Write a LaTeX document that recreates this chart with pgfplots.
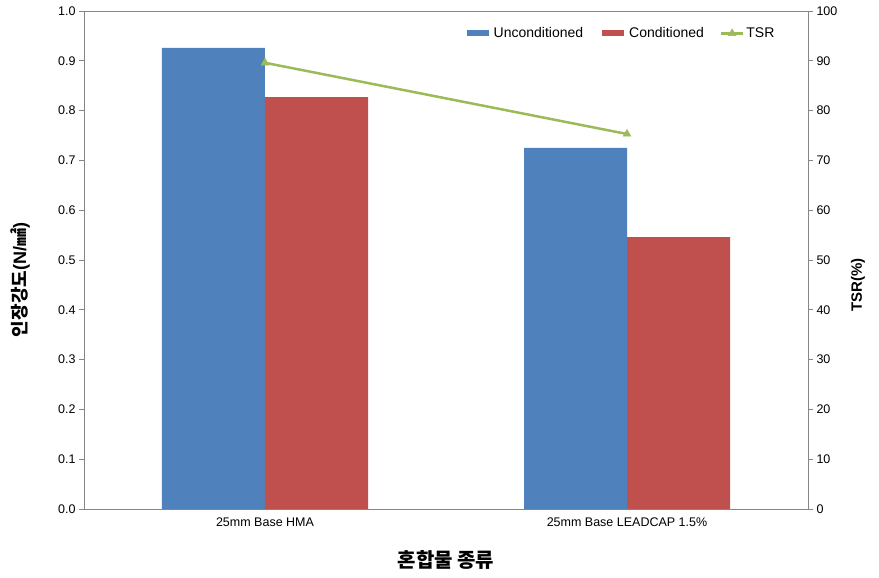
\documentclass[border=0pt]{standalone}
\usepackage{pgfplots}
\pgfplotsset{compat=1.18}
\usepackage{fontspec}
\setmainfont{Liberation Sans}
\newfontfamily\cjk{Noto Sans CJK KR}
\definecolor{xlblue}{HTML}{4F81BD}
\definecolor{xlred}{HTML}{C0504D}
\definecolor{xlgreen}{HTML}{9BBB59}
\definecolor{axgray}{HTML}{868686}
\begin{document}
\begin{tikzpicture}
\path[use as bounding box] (-84pt,-69pt) rectangle (795pt,509pt);
\pgfplotsset{
  xlbase/.style={
    scale only axis, width=724pt, height=498pt,
    xmin=-0.5, xmax=1.5,
    axis line style={axgray, line width=0.8pt},
    tick style={axgray, line width=0.8pt},
    tick align=outside, major tick length=5pt,
    ticklabel style={font=\fontsize{12.5}{14}\selectfont},
    /pgf/number format/assume math mode=true,
  }
}
\begin{axis}[
  xlbase,
  ybar=0pt, bar width=103pt,
  ymin=0, ymax=1, ytick distance=0.1,
  yticklabel style={/pgf/number format/.cd, fixed, fixed zerofill, precision=1},
  axis y line*=left,
  xtick={0,1}, xticklabels={25mm Base HMA, 25mm Base LEADCAP 1.5\%},
  major x tick style={draw=none},
  extra x ticks={0.5}, extra x tick labels={},
  extra x tick style={major tick length=5pt, tick style={axgray}},
  xlabel={\cjk\bfseries 혼합물 종류},
  xlabel style={at={(axis description cs:0.5,0)}, anchor=center, yshift=-51pt, font=\fontsize{20}{22}\selectfont},
  ylabel={\bfseries{\cjk 인장강도}(N/{\cjk ㎟})},
  ylabel style={at={(axis description cs:0,0.46)}, anchor=center, yshift=64pt, font=\fontsize{18}{20}\selectfont},
]
\addplot[fill=xlblue, draw=none] coordinates {(0,0.926) (1,0.725)};
\addplot[fill=xlred, draw=none] coordinates {(0,0.827) (1,0.546)};
\end{axis}
\begin{axis}[
  xlbase,
  ymin=0, ymax=100, ytick distance=10,
  axis y line*=right, axis x line=none,
  ylabel={\bfseries TSR(\%)},
  ylabel style={at={(axis description cs:1,0.45)}, anchor=center, yshift=-50pt, font=\fontsize{15}{18}\selectfont},
  legend columns=-1,
  legend style={draw=none, fill=none, at={(rel axis cs:0.52,0.975)}, anchor=north west,
    font=\fontsize{14}{16}\selectfont, /tikz/every even column/.append style={column sep=14pt}},
  legend image code/.code={\draw[#1, mark repeat=2, mark phase=2] plot coordinates {(0pt,0pt) (11pt,0pt) (22pt,0pt)};},
]
\addlegendimage{line width=6pt, xlblue}
\addlegendentry{Unconditioned}
\addlegendimage{line width=6pt, xlred}
\addlegendentry{Conditioned}
\addplot[xlgreen, line width=2.5pt, mark=triangle*, mark size=4.5pt, mark options={line width=0.5pt}] coordinates {(0,89.6) (1,75.3)};
\addlegendentry{TSR}
\draw[axgray, line width=0.8pt] (rel axis cs:0,1) -- (rel axis cs:1,1);
\end{axis}
\end{tikzpicture}
\end{document}
